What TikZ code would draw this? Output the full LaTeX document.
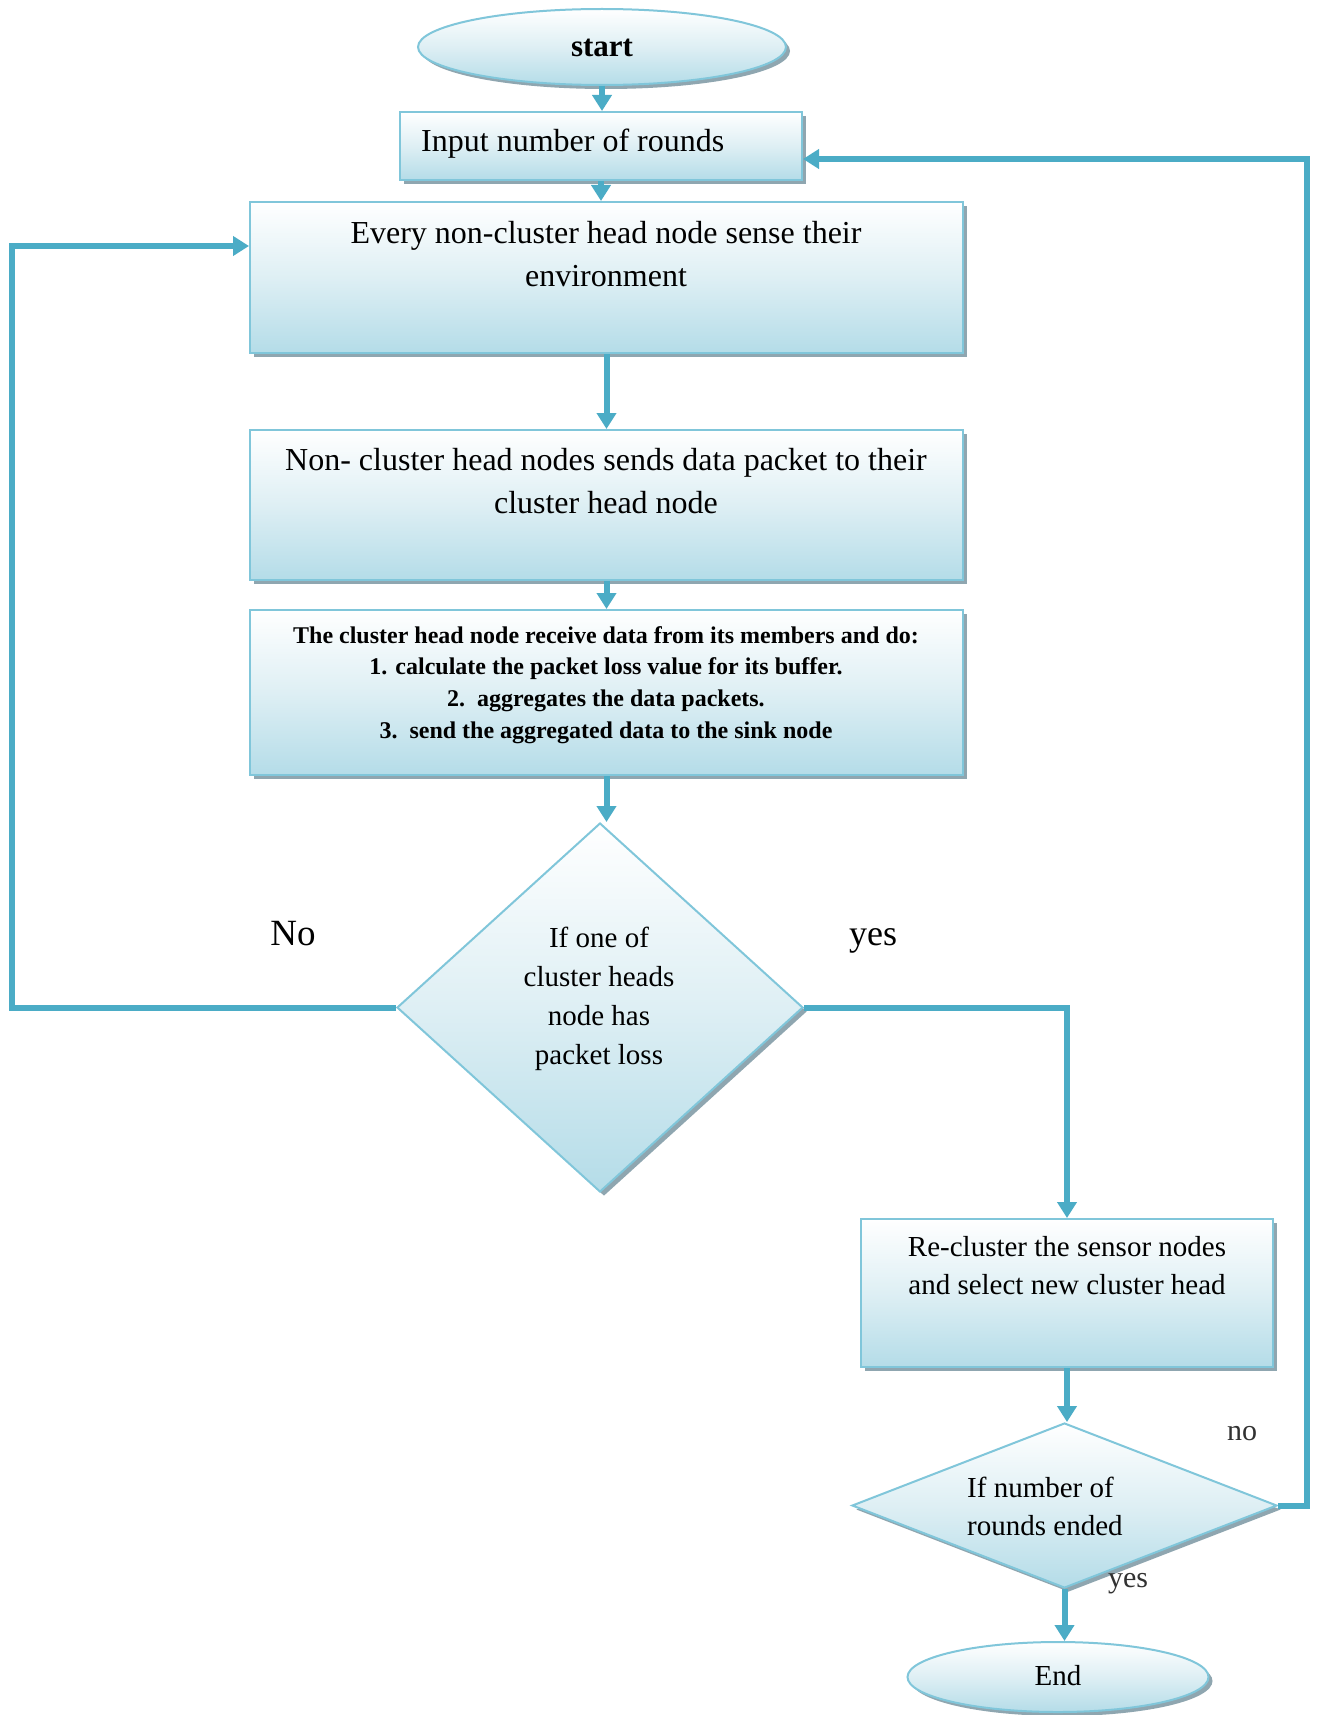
\documentclass[tikz,border=0pt]{standalone}
\usepackage{fontspec}
\setmainfont{Liberation Serif}
\usetikzlibrary{arrows.meta,shapes.geometric,shadows,calc}

\definecolor{flow}{RGB}{75,172,198}
\definecolor{rim}{RGB}{128,198,218}
\definecolor{paleblue}{RGB}{180,220,232}
\definecolor{midblue}{RGB}{222,239,244}
\definecolor{shade}{RGB}{143,166,176}
\definecolor{faint}{RGB}{50,50,50}

\tikzset{
  panel/.style={draw=rim, line width=2pt, top color=white, bottom color=paleblue,
    middle color=midblue,
    general shadow={fill=shade, shadow xshift=4pt, shadow yshift=-4pt}},
  stepbox/.style={panel, rectangle, inner sep=0pt},
  decide/.style={panel, diamond, inner sep=0pt},
  terminal/.style={panel, ellipse, inner sep=0pt},
  txt/.style={align=center, inner sep=0pt},
  link/.style={draw=flow, line width=6pt, -{Triangle[width=19pt,length=16pt]}},
  big/.style={font=\fontsize{32}{43}\selectfont},
  mid/.style={font=\fontsize{29}{38}\selectfont},
  bold/.style={font=\fontsize{24}{31.7}\selectfont\bfseries},
}

\begin{document}
\begin{tikzpicture}[x=1pt, y=-1pt]
  \useasboundingbox[fill=white] (0,0) rectangle (1317,1715);

  % shapes
  \node[terminal, minimum width=368pt, minimum height=76pt] (st) at (602,47) {};
  \node[stepbox, minimum width=402pt, minimum height=68pt] (inp) at (601,146) {};
  \node[stepbox, minimum width=713pt, minimum height=151pt] (b2) at (606.5,277.5) {};
  \node[stepbox, minimum width=713pt, minimum height=150pt] (b3) at (606.5,505) {};
  \node[stepbox, minimum width=713pt, minimum height=165pt] (b4) at (606.5,692.5) {};
  \node[decide, minimum width=406pt, minimum height=369pt] (d1) at (600,1007.5) {};
  \node[stepbox, minimum width=412pt, minimum height=148pt] (b5) at (1067,1293) {};
  \node[decide, minimum width=425pt, minimum height=165pt] (d2) at (1064.5,1505.5) {};
  \node[terminal, minimum width=301pt, minimum height=70pt] (en) at (1058,1677) {};

  % texts
  \node[txt, font=\fontsize{31}{38}\selectfont\bfseries] (tst) at (602,48) {start};
  \node[txt, big, anchor=west] (tinp) at (421,144) {Input number of rounds};
  \node[txt, big] (t2) at (606,254) {Every non-cluster head node sense their\\environment};
  \node[txt, big] (t3) at (606,481) {Non- cluster head nodes sends data packet to their\\cluster head node};
  \node[txt, bold] (t4) at (606,685) {The cluster head node receive data from its members and do:\\
    1. calculate the packet loss value for its buffer.\\
    2.\ \ aggregates the data packets.\\
    3.\ \ send the aggregated data to the sink node};
  \node[txt, font=\fontsize{29}{39}\selectfont] (td1) at (599,999) {If one of\\cluster heads\\node has\\packet loss};
  \node[txt, mid] (t5) at (1067,1266) {Re-cluster the sensor nodes\\and select new cluster head};
  \node[txt, mid, align=left, anchor=west] (td2) at (967,1506) {If number of\\rounds ended};
  \node[txt, mid] (ten) at (1058,1676) {End};

  % branch labels
  \node[txt, font=\fontsize{37}{40}\selectfont] (lno) at (293,934) {No};
  \node[txt, font=\fontsize{36}{40}\selectfont] (lyes) at (873,941) {yes};
  \node[txt, font=\fontsize{30}{34}\selectfont, text=faint] (lno2) at (1242,1434) {no};
  \node[txt, font=\fontsize{30}{34}\selectfont, text=faint] (lyes2) at (1128,1584) {yes};

  % loop entry points and turning columns
  \coordinate (b2in) at ($(b2.north west)+(0,45)$);
  \coordinate (inpin) at ($(inp.east)+(0,13)$);
  \coordinate (lx) at (12,0);
  \coordinate (rx) at (1307,0);

  % connectors
  \draw[link] (st.south) -- (st.south |- inp.north);
  \draw[link] (inp.south) -- (inp.south |- b2.north);
  \draw[link] (b2.south) -- (b3.north);
  \draw[link] (b3.south) -- (b4.north);
  \draw[link] (b4.south) -- (b4.south |- d1.north);
  \draw[link] (d1.east) -| (b5.north);
  \draw[link] (d1.west) -| (lx |- b2in) -- (b2in);
  \draw[link] (b5.south) -- (b5.south |- d2.north);
  \draw[link] (d2.east) -| (rx |- inpin) -- (inpin);
  \draw[link] (d2.south) -- (d2.south |- en.north);
\end{tikzpicture}
\end{document}
